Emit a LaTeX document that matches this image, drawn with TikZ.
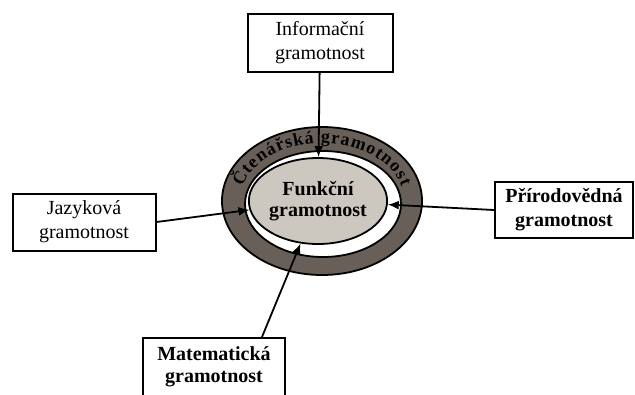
\documentclass[tikz,border=0pt]{standalone}
\usepackage{fontspec}
\setmainfont{Liberation Serif}
\usetikzlibrary{arrows.meta,shapes.geometric,decorations.text}
\definecolor{ringgray}{RGB}{104,96,88}
\definecolor{coregray}{RGB}{204,200,192}

\begin{document}
\begin{tikzpicture}[x=1pt,y=1pt,
  gbox/.style={draw=black, line width=2pt, fill=white, minimum width=143pt,
    minimum height=57pt, align=center, inner sep=0pt, font=\fontsize{20}{24}\selectfont},
  link/.style={black, line width=1.8pt, -{Latex[length=11pt,width=9pt]}}]
\tikzstyle{every node}+=[inner sep=0pt]
\useasboundingbox (0,0) rectangle (635,-394);
\fill [white] (0,0) rectangle (635,-394);
\draw [black, line width=1.8pt, fill=ringgray] (322,-201) ellipse [x radius=100, y radius=74];
\draw [black, line width=1.8pt, fill=white] (323,-204) ellipse [x radius=78, y radius=53];
\node [draw=black, line width=1.8pt, fill=coregray, ellipse, minimum width=116pt, minimum height=86pt,
  align=center, font=\fontsize{20}{21}\selectfont\bfseries] (fun) at (318,-201) {Funkční\\gramotnost};
\path [decorate, decoration={text along path, text align=fit to path,
  text format delimiters={|}{|},
  text={|\fontsize{18}{18}\selectfont\bfseries|Čtenářská gramotnost}}]
  (322,-201) ++(166:82 and 58) arc [start angle=166, end angle=14, x radius=82, y radius=58];
\node [gbox, minimum width=145pt, minimum height=58pt] (info) at (320,-43) {Informační\\gramotnost};
\node [gbox] (jaz) at (84,-222) {Jazyková\\gramotnost};
\node [gbox, minimum width=138pt, minimum height=56pt, font=\fontsize{20}{24}\selectfont\bfseries] (pri) at (564,-210) {Přírodovědná\\gramotnost};
\node [gbox, minimum width=142pt, minimum height=58pt, font=\fontsize{20}{22}\selectfont\bfseries] (mat) at (214,-367) {Matematická\\gramotnost};
\draw [link] (info) -- (fun);
\draw [link] (jaz.east) -- (fun);
\draw [link] (pri.west) -- (fun);
\draw [link] ([xshift=48pt]mat.north) -- (fun);
\end{tikzpicture}
\end{document}
